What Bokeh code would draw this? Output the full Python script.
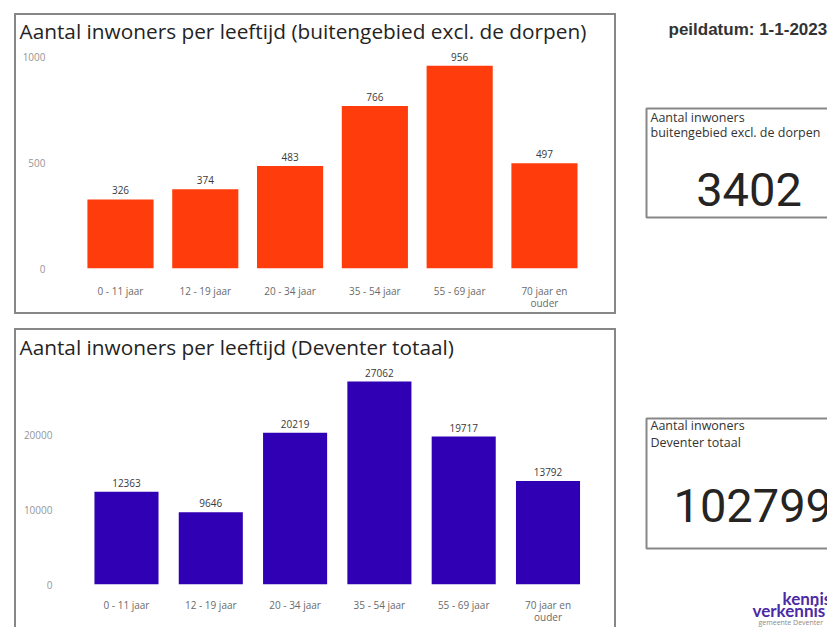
from bokeh.plotting import figure
from bokeh.models import Range1d, ColumnDataSource, FixedTicker, Spacer
from bokeh.layouts import row, column
from bokeh.embed import file_html
from bokeh.resources import INLINE
from bokeh.core.properties import value

categories = ["0 - 11 jaar", "12 - 19 jaar", "20 - 34 jaar", "35 - 54 jaar", "55 - 69 jaar", "70 jaar en\nouder"]
buitengebied = [326, 374, 483, 766, 956, 497]
deventer = [12363, 9646, 20219, 27062, 19717, 13792]
ticks_top = [0, 500, 1000]
ticks_bottom = [0, 10000, 20000]
title_top = "Aantal inwoners per leeftijd (buitengebied excl. de dorpen)"
title_bottom = "Aantal inwoners per leeftijd (Deventer totaal)"
kpi_top_label = ["Aantal inwoners", "buitengebied excl. de dorpen"]
kpi_bottom_label = ["Aantal inwoners", "Deventer totaal"]
kpi_top = 3402
kpi_bottom = 102799
peildatum = "peildatum: 1-1-2023"
logo = ["kennis", "verkennis"]
logo_sub = "gemeente Deventer"

FONT = "Open Sans"
BOX = "#878787"


def make_chart(title, vals, ticks, color, H, ft, fb, x_start, x_end, px_per_unit, bar_w,
               y_standoff, x_standoff, title_standoff, shadow):
    W = 602
    y_end = (fb - ft) / px_per_unit
    idx = list(range(len(categories)))
    p = figure(width=W, height=H, x_range=Range1d(x_start, x_end), y_range=Range1d(0, y_end),
               output_backend="svg", toolbar_location=None, title=title,
               min_border_left=63, min_border_right=26, min_border_top=ft, min_border_bottom=H - fb,
               styles={"box-shadow": shadow})
    p.border_fill_color = None
    p.outline_line_color = None
    p.xgrid.grid_line_color = None
    p.ygrid.grid_line_color = None
    src = ColumnDataSource(dict(x=idx, v=vals, t=[str(v) for v in vals]))
    p.vbar(x="x", top="v", width=bar_w, source=src, fill_color=color, line_color=None)
    p.text(x="x", y="v", text="t", source=src, y_offset=-5, text_align="center", text_baseline="bottom",
           text_font=value(FONT), text_font_size="10px", text_color="#3a3a3a")
    p.yaxis.ticker = FixedTicker(ticks=ticks)
    p.xaxis.ticker = FixedTicker(ticks=idx)
    p.xaxis.major_label_overrides = {i: c for i, c in zip(idx, categories)}
    for ax in (p.xaxis[0], p.yaxis[0]):
        ax.axis_line_color = None
        ax.major_tick_line_color = None
        ax.minor_tick_line_color = None
        ax.major_tick_out = 0
        ax.major_tick_in = 0
        ax.minor_tick_out = 0
        ax.major_label_text_font = FONT
        ax.major_label_text_font_size = "10px"
    p.yaxis.major_label_text_color = "#959595"
    p.yaxis.major_label_standoff = y_standoff
    p.xaxis.major_label_text_color = "#6a6a6a"
    p.xaxis.major_label_standoff = x_standoff
    p.xaxis.major_label_text_line_height = 0.9
    p.title.align = "left"
    p.title.offset = -58
    p.title.standoff = title_standoff
    p.title.vertical_align = "top"
    p.title.text_font = FONT
    p.title.text_font_size = "20.8px"
    p.title.text_font_style = "normal"
    p.title.text_color = "#252423"
    return p


top_band = "inset 0 7px 0 0 #ffffff, inset 0 9px 0 0 %s" % BOX
sides = "inset 2px 0 0 0 %s, inset -2px 0 0 0 %s" % (BOX, BOX)
p1 = make_chart(title_top, buitengebied, ticks_top, "#FF3D0C", 308, 40, 262, -0.507, 5.543, 0.212, 0.78,
                32, 15, 0, ", ".join([top_band, sides, "inset 0 -2px 0 0 " + BOX]))
p2 = make_chart(title_bottom, deventer, ticks_bottom, "#3001B4", 306, 41, 263, -0.581, 5.504, 0.0075, 0.76,
                25, 13, 0, ", ".join([top_band, sides]))

# right-hand panel with KPI cards
RW, RH = 211, 627
pr = figure(width=RW, height=RH, x_range=Range1d(0, RW), y_range=Range1d(RH, 0),
            output_backend="svg", toolbar_location=None, title=None, min_border=0,
            x_axis_type=None, y_axis_type=None)
pr.outline_line_color = None
pr.xgrid.grid_line_color = None
pr.ygrid.grid_line_color = None
pr.quad(left=[30, 30], right=[240, 240], top=[108, 418], bottom=[217, 548],
        fill_alpha=0, line_color=BOX, line_width=2)
pr.text(x=[52], y=[29], text=[peildatum], text_font=value("Liberation Sans"), text_font_style="bold",
        text_font_size="17px", text_color="#333333", text_baseline="middle")
pr.text(x=[34, 34], y=[117, 132], text=kpi_top_label, text_font=value(FONT), text_font_size="12.5px",
        text_color="#333333", text_baseline="middle")
pr.text(x=[34, 34], y=[425, 442], text=kpi_bottom_label, text_font=value(FONT), text_font_size="12.5px",
        text_color="#333333", text_baseline="middle")
pr.text(x=[132.5], y=[189], text=[str(kpi_top)], text_font=value("Roboto"), text_font_size="47px",
        text_color="#252423", text_baseline="middle", text_align="center")
pr.text(x=[57], y=[505], text=[str(kpi_bottom)], text_font=value("Roboto"), text_font_size="47px",
        text_color="#252423", text_baseline="middle", text_align="left")
pr.text(x=[166, 136], y=[598, 610], text=logo, text_font=value("Lato"), text_font_style="bold",
        text_font_size="17px", text_color="#4b2aa6", text_baseline="middle")
pr.text(x=[142], y=[622], text=[logo_sub], text_font=value(FONT), text_font_size="7px",
        text_color="#8a8a8a", text_baseline="middle")

layout = row(Spacer(width=14),
             column(Spacer(height=6), p1, Spacer(height=7), p2),
             pr)
open("out.html", "w").write(file_html(layout, INLINE))
